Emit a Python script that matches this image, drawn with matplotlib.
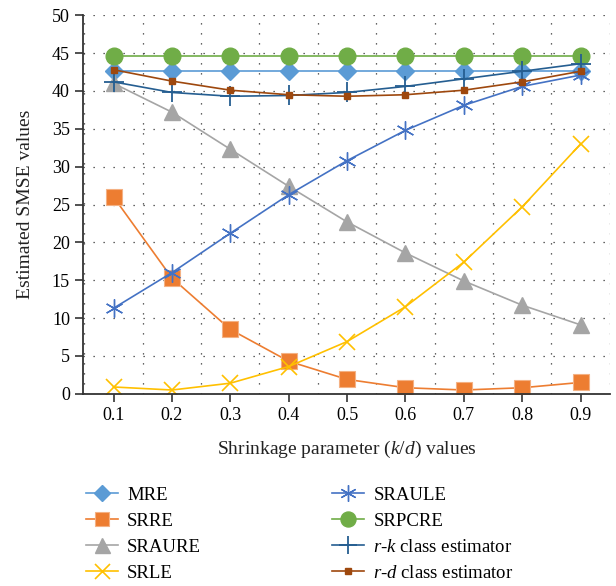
import matplotlib.pyplot as plt
import numpy as np

plt.rcParams['font.family'] = ['Liberation Serif', 'DejaVu Serif']
plt.rcParams['mathtext.fontset'] = 'custom'
plt.rcParams['mathtext.rm'] = 'Liberation Serif'
plt.rcParams['mathtext.it'] = 'Liberation Serif:italic'

# data
k_values = ["0.1", "0.2", "0.3", "0.4", "0.5", "0.6", "0.7", "0.8", "0.9"]
mre = [42.7, 42.7, 42.7, 42.7, 42.7, 42.7, 42.7, 42.7, 42.7]
srre = [26.0, 15.3, 8.5, 4.3, 1.9, 0.8, 0.5, 0.8, 1.5]
sraure = [41.0, 37.2, 32.3, 27.4, 22.7, 18.6, 14.9, 11.7, 9.1]
srle = [0.9, 0.5, 1.4, 3.6, 6.9, 11.5, 17.4, 24.7, 33.0]
sraule = [11.3, 16.0, 21.2, 26.3, 30.8, 34.8, 38.1, 40.6, 42.1]
srpcre = [44.6, 44.6, 44.6, 44.6, 44.6, 44.6, 44.6, 44.6, 44.6]
rk_class = [41.2, 39.8, 39.3, 39.4, 39.8, 40.6, 41.6, 42.6, 43.6]
rd_class = [42.8, 41.3, 40.1, 39.5, 39.3, 39.5, 40.1, 41.2, 42.6]

x = np.arange(len(k_values))

fig = plt.figure(figsize=(6.16, 5.86), dpi=100)
ax = fig.add_axes([0.135, 0.328, 0.855, 0.646])

ax.plot(x, mre, color='#5B9BD5', marker='D', markersize=9, lw=1.2, label='MRE')
ax.plot(x, srre, color='#ED7D31', marker='s', markersize=11, markeredgecolor='#F4B183',
        markeredgewidth=0.8, lw=1.2, label='SRRE')
ax.plot(x, sraure, color='#A5A5A5', marker='^', markersize=12, lw=1.2, label='SRAURE')
ax.plot(x, srle, color='#FFC000', marker='x', markersize=12, markeredgewidth=1.2,
        lw=1.2, label='SRLE')
ax.plot(x, sraule, color='#4472C4', marker=(6, 2, 0), markersize=13, markeredgewidth=1.0,
        lw=1.2, label='SRAULE')
ax.plot(x, srpcre, color='#70AD47', marker='o', markersize=12, lw=1.2, label='SRPCRE')
ax.plot(x, rk_class, color='#255E91', marker='+', markersize=14, markeredgewidth=1.3,
        lw=1.2, label=r'$r$-$k$ class estimator')
ax.plot(x, rd_class, color='#9E480E', marker='s', markersize=5, lw=1.2,
        label=r'$r$-$d$ class estimator')

ax.set_xlim(-0.52, 8.5)
ax.set_ylim(0, 50)
ax.set_xticks(x)
ax.set_xticklabels(k_values)
ax.set_yticks(np.arange(0, 51, 5))
ax.set_xticks(np.arange(-0.5, 8.6, 1), minor=True)
ax.tick_params(axis='x', which='minor', length=0)
ax.tick_params(axis='both', which='major', direction='out', length=6, width=1.2,
               labelsize=13, color='#333333')

ax.grid(True, axis='y', which='major', linestyle=(0, (1, 7)), color='#333333', lw=0.9)
ax.grid(True, axis='x', which='minor', linestyle=(0, (1, 7)), color='#333333', lw=0.9)
ax.spines['top'].set_visible(False)
ax.spines['right'].set_visible(False)
ax.spines['left'].set_linewidth(1.3)
ax.spines['bottom'].set_linewidth(1.3)
ax.spines['left'].set_color('#333333')
ax.spines['bottom'].set_color('#333333')

ax.set_xlabel(r'Shrinkage parameter ($k/d$) values', fontsize=14, color='#222222', labelpad=11)
ax.set_ylabel('Estimated SMSE values', fontsize=14, color='#222222', labelpad=13)

fig.legend(loc='upper left', bbox_to_anchor=(0.127, 0.182), ncol=2, frameon=False,
           fontsize=13.5, handlelength=1.7, handletextpad=0.5, columnspacing=7.0,
           labelspacing=0.47, borderaxespad=0, markerscale=0.9)

fig.savefig('out.png', dpi=100)
